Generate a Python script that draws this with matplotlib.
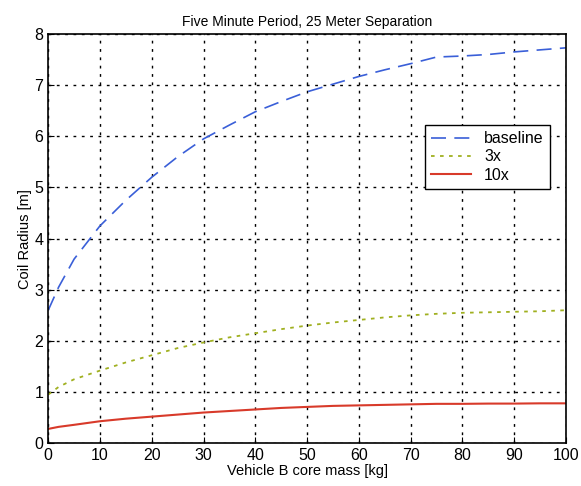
import numpy as np
import matplotlib
matplotlib.use('Agg')
import matplotlib.pyplot as plt

plt.rcParams['font.family'] = ['Liberation Sans', 'DejaVu Sans']

# core mass [kg] and coil radius [m] for each scaling
mass = [0, 2, 5, 10, 15, 20, 25, 30, 35, 40, 45, 50, 55, 60, 65, 70, 75, 80, 85, 90, 95, 100]
baseline = [2.6, 3.05, 3.6, 4.25, 4.75, 5.2, 5.6, 5.95, 6.22, 6.48, 6.68, 6.87, 7.02, 7.17,
            7.3, 7.42, 7.55, 7.57, 7.6, 7.65, 7.69, 7.73]
x3 = [0.95, 1.1, 1.25, 1.42, 1.58, 1.72, 1.86, 1.97, 2.07, 2.15, 2.23, 2.3, 2.36, 2.41,
      2.46, 2.5, 2.53, 2.55, 2.56, 2.57, 2.58, 2.6]
x10 = [0.28, 0.32, 0.36, 0.43, 0.48, 0.52, 0.56, 0.6, 0.63, 0.66, 0.69, 0.71, 0.73, 0.74,
       0.75, 0.76, 0.77, 0.77, 0.775, 0.775, 0.78, 0.78]

fig = plt.figure(figsize=(5.81, 4.86), dpi=100)
ax = fig.add_axes([0.083, 0.088, 0.891, 0.842])

ax.plot(mass, baseline, color='#3a5fd8', linestyle=(0, (9, 5)), linewidth=1.2, label='baseline')
ax.plot(mass, x3, color='#a0b020', linestyle=(0, (2, 3)), linewidth=1.3, label='3x')
ax.plot(mass, x10, color='#d83a2a', linestyle='-', linewidth=1.5, label='10x')

ax.set_xlim(0, 100)
ax.set_ylim(0, 8)
ax.set_xticks(np.arange(0, 101, 10))
ax.set_yticks(np.arange(0, 9, 1))
ax.grid(True, color='black', linestyle=(0, (2, 4)), linewidth=1.0)
ax.tick_params(direction='in', labelsize=11.5, length=4)
for s in ax.spines.values():
    s.set_linewidth(1.2)

ax.set_title('Five Minute Period, 25 Meter Separation', fontsize=10)
ax.set_xlabel('Vehicle B core mass [kg]', fontsize=10.5, labelpad=1)
ax.set_ylabel('Coil Radius [m]', fontsize=10.5, labelpad=2)

leg = ax.legend(loc='upper left', bbox_to_anchor=(0.728, 0.778), borderaxespad=0,
                fontsize=11.5, fancybox=False, framealpha=1, edgecolor='black',
                handlelength=2.5, borderpad=0.4, labelspacing=0.2)
leg.get_frame().set_linewidth(1.0)

fig.savefig('out.png', dpi=100)
